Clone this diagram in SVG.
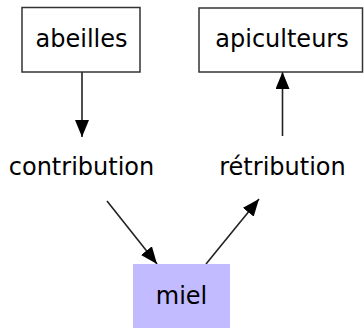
<svg xmlns="http://www.w3.org/2000/svg" width="364" height="328" viewBox="0 0 364 328">
<defs>
<style>
text{font-family:"DejaVu Sans",sans-serif;font-size:24px;fill:#000;text-anchor:middle}
.box{fill:#fff;stroke:#333;stroke-width:1.5}
.edge{stroke:#222;stroke-width:1.6;fill:none}
</style>
<marker id="ah" viewBox="0 0 17 14" refX="17" refY="7" markerWidth="17" markerHeight="14" markerUnits="userSpaceOnUse" orient="auto">
<path d="M0,0 L17,7 L0,14 Z" fill="#000"/>
</marker>
</defs>
<rect width="364" height="328" fill="#fff"/>
<g id="connectors">
<line class="edge" x1="82" y1="72" x2="82" y2="137" marker-end="url(#ah)"/>
<line class="edge" x1="282.5" y1="136" x2="282.5" y2="72" marker-end="url(#ah)"/>
<line class="edge" x1="107" y1="201" x2="157" y2="264" marker-end="url(#ah)"/>
<line class="edge" x1="206" y1="264" x2="259" y2="199" marker-end="url(#ah)"/>
</g>
<g id="abeilles">
<rect class="box" x="22" y="7.5" width="118" height="64.5"/>
<text x="81.5" y="47">abeilles</text>
</g>
<g id="apiculteurs">
<rect class="box" x="199" y="8" width="163.5" height="64"/>
<text x="282" y="47">apiculteurs</text>
</g>
<g id="contribution">
<text x="81.5" y="175">contribution</text>
</g>
<g id="retribution">
<text x="282.5" y="175">rétribution</text>
</g>
<g id="miel">
<rect x="133" y="264" width="97" height="64" fill="#c2bbff"/>
<text x="181.5" y="304">miel</text>
</g>
</svg>
